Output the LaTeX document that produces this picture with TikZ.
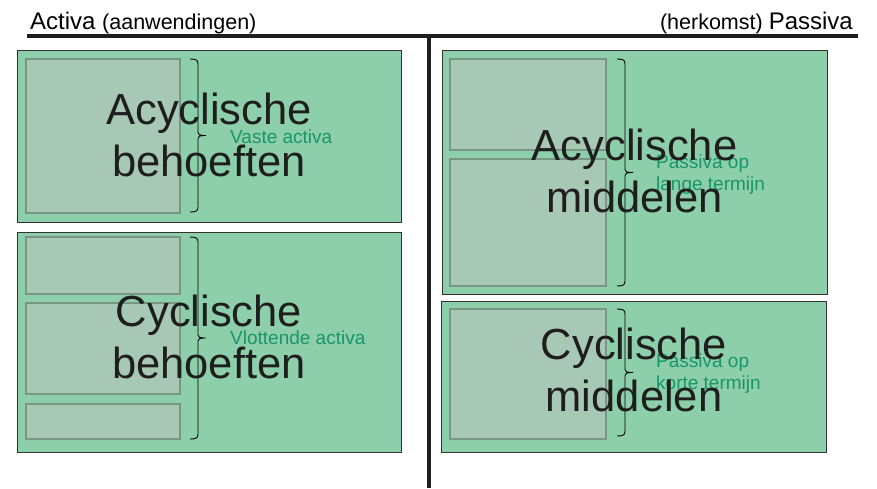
\documentclass[tikz,border=0pt]{standalone}
\usepackage{fontspec}
\setmainfont{Liberation Sans}
\definecolor{boxfill}{HTML}{8DCFAB}
\definecolor{innerfill}{HTML}{A7C8B4}
\definecolor{innerline}{HTML}{7B9584}
\definecolor{labelgreen}{HTML}{18956A}
\definecolor{inkdark}{HTML}{1E1E1E}
\newcommand\bracexy[3]{% x, ytop, ybottom
  \pgfmathsetmacro\bmid{(#2+#3)/2}
  \draw[bracestyle] (#1,#2) .. controls (#1+6,#2) and (#1+8,#2+1) .. (#1+8,#2+5)
    -- (#1+8,\bmid-3) .. controls (#1+8,\bmid-1) and (#1+9,\bmid) .. (#1+16,\bmid)
    .. controls (#1+9,\bmid) and (#1+8,\bmid+1) .. (#1+8,\bmid+3)
    -- (#1+8,#3-5) .. controls (#1+8,#3-1) and (#1+6,#3) .. (#1,#3);}
\begin{document}
\begin{tikzpicture}[x=1pt,y=-1pt,
  outerbox/.style={draw=black!80, line width=1pt, fill=boxfill},
  innerbox/.style={draw=innerline, line width=2.5pt, fill=innerfill},
  bracestyle/.style={draw=black, line width=0.9pt},
  maintext/.style={inner sep=0pt, align=center, text=inkdark, font=\fontsize{43.5}{52.5}\selectfont},
  greentext/.style={inner sep=0pt, align=left, text=labelgreen, font=\fontsize{19}{22.5}\selectfont},
  titletext/.style={inner sep=0pt, text=black}]
\useasboundingbox (0,0) rectangle (877,488);
% titles and axes
\node[titletext, anchor=base west] (tl) at (30,29) {\fontsize{24}{28}\selectfont Activa \fontsize{21.5}{25}\selectfont (aanwendingen)};
\node[titletext, anchor=base east] (tr) at (853,29) {\fontsize{21.5}{25}\selectfont (herkomst) \fontsize{24}{28}\selectfont Passiva};
\coordinate (hl) at (27,36);
\coordinate (hr) at (858,36);
\coordinate (vt) at (429,36);
\coordinate (vb) at (429,488);
\draw[line width=3.5pt, color=inkdark] (hl) -- (hr);
\draw[line width=4pt, color=inkdark] (vt) -- (vb);
% outer boxes
\draw[outerbox] (17,50) rectangle (401,222);
\draw[outerbox] (17,232) rectangle (401,452);
\draw[outerbox] (442,50) rectangle (827,294);
\draw[outerbox] (441,301) rectangle (826,452);
% inner boxes
\draw[innerbox] (26,59) rectangle (180,213);
\draw[innerbox] (26,237) rectangle (180,294);
\draw[innerbox] (26,303) rectangle (180,394);
\draw[innerbox] (26,404) rectangle (180,439);
\draw[innerbox] (450,59) rectangle (606,150);
\draw[innerbox] (450,159) rectangle (606,286);
\draw[innerbox] (450,309) rectangle (606,439);
% green labels
\node[greentext, anchor=base west] (va) at (230,143) {Vaste activa};
\node[greentext, anchor=base west] (vla) at (230,344) {Vlottende activa};
\node[greentext, anchor=north west] (plt) at (656,154.4) {Passiva op\\lange termijn};
\node[greentext, anchor=north west] (pkt) at (656,353.4) {Passiva op\\korte termijn};
% braces
\bracexy{190}{59}{212}
\bracexy{190}{237}{439}
\bracexy{617}{59}{286}
\bracexy{617}{309}{436}
% main texts
\node[maintext] (ab) at (209,135) {Acyclische\\behoeften};
\node[maintext] (cb) at (209,337) {Cyclische\\behoeften};
\node[maintext] (am) at (634.5,171) {Acyclische\\middelen};
\node[maintext] (cm) at (634,370) {Cyclische\\middelen};
\end{tikzpicture}
\end{document}
